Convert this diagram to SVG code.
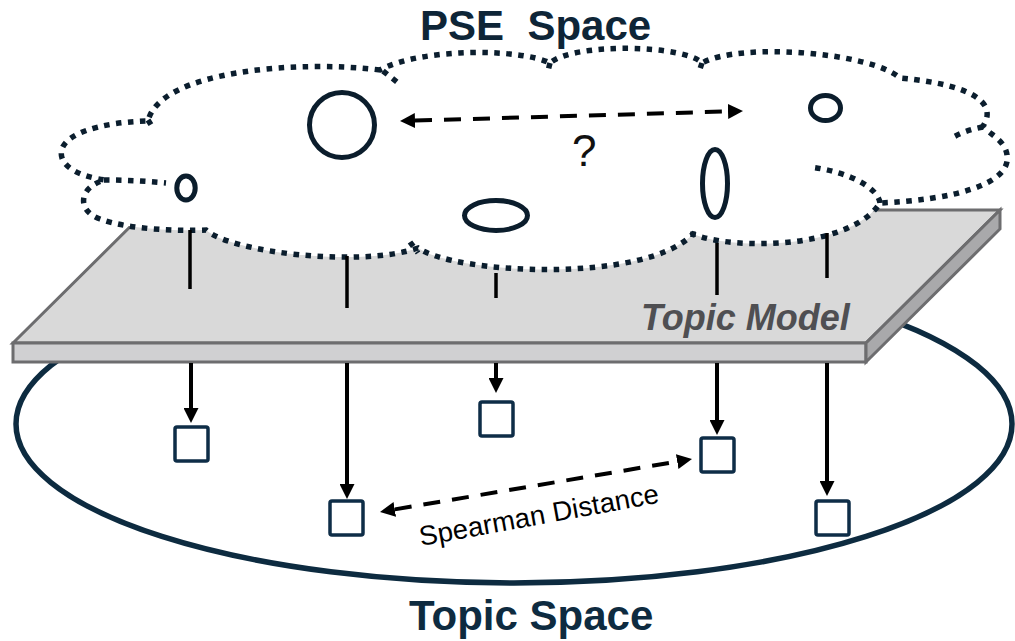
<svg xmlns="http://www.w3.org/2000/svg" width="1015" height="641" viewBox="0 0 1015 641">
<style>
.title{font-family:"Liberation Sans",Arial,sans-serif;font-weight:bold;font-size:42px;white-space:pre}
.cloud{fill:#ffffff;stroke:#0b1e2e;stroke-width:5.5;stroke-dasharray:5.5 6.5}
.tail{fill:none;stroke:#0b1e2e;stroke-width:5.5;stroke-dasharray:5.5 6.5}
.pse{fill:none;stroke:#0b1d2c;stroke-width:5}
.stub{stroke:#000;stroke-width:3.5}
.arr{stroke:#000;stroke-width:4;fill:none;marker-end:url(#ah)}
.dash{stroke:#000;stroke-width:4;fill:none;stroke-dasharray:17 12;marker-start:url(#ah);marker-end:url(#ah)}
.sq{fill:#fff;stroke:#0e2d47;stroke-width:3.5}
.plane{stroke:#6d6d6f;stroke-width:3;stroke-linejoin:miter}
</style>
<defs>
<marker id="ah" markerUnits="userSpaceOnUse" viewBox="0 0 15 15" refX="0" refY="7.5" markerWidth="15" markerHeight="15" orient="auto-start-reverse">
<path d="M0,0 L15,7.5 L0,15 Z" fill="#000"/>
</marker>
</defs>
<rect width="1015" height="641" fill="#fff"/>

<g id="topic-space">
<ellipse cx="514" cy="424" rx="498" ry="159" fill="none" stroke="#0d2b40" stroke-width="5.5"/>
</g>

<g id="topic-model">
<polygon class="plane" points="13,343 147,210 1000,210 866,343" fill="#d9d9d9"/>
<polygon class="plane" points="13,343 866,343 866,362 13,362" fill="#d0d0d2"/>
<polygon class="plane" points="866,343 1000,210 1000,229 866,362" fill="#a9a9ab"/>
<text x="641" y="330" font-family="'Liberation Sans',Arial,sans-serif" font-weight="bold" font-style="italic" font-size="36" fill="#4f4f52">Topic Model</text>
</g>

<g id="pse-cloud">
<path class="cloud" d="M380,70 C300,60 160,70 148,121 C100,122 55,135 62,158 C67,172 90,178 105,180 C80,186 75,210 100,219 C130,230 180,231 206,230 C230,252 360,268 418,248 C455,274 645,284 693,234 C730,250 850,250 880,203 C950,200 1012,185 1007,155 C1005,140 990,135 983,126 C995,108 985,86 900,78 C870,52 740,42 702,63 C685,45 575,42 550,63 C520,48 420,48 380,70 Z"/>
<path class="tail" d="M383,71 L397,82 M148,120 L153,128 M104,180 Q135,180 166,183 M410,242 L418,253 M693,237 L693,227 M880,203 C878,188 850,172 810,167 M983,127 Q965,130 950,139 M702,63 L700,69 M550,63 L548,71"/>
</g>

<g id="pse-title">
<text class="title" x="420" y="40" fill="#0e2537">PSE  Space</text>
</g>

<g id="pse-1"><circle class="pse" cx="342" cy="125" r="32.5"/></g>
<g id="pse-2"><ellipse class="pse" cx="186" cy="188" rx="9.2" ry="12"/></g>
<g id="pse-3"><ellipse class="pse" cx="496" cy="215.5" rx="31.5" ry="15"/></g>
<g id="pse-4"><ellipse class="pse" cx="715" cy="183.5" rx="12.5" ry="34"/></g>
<g id="pse-5"><ellipse class="pse" cx="825.5" cy="108" rx="15" ry="12.5"/></g>

<g id="question">
<text x="572" y="166" font-family="'Liberation Sans',Arial,sans-serif" font-size="44" fill="#111">?</text>
</g>

<g id="topic-1"><rect class="sq" x="175" y="427" width="33" height="34" rx="2"/></g>
<g id="topic-2"><rect class="sq" x="330" y="501" width="33" height="34" rx="2"/></g>
<g id="topic-3"><rect class="sq" x="480" y="402" width="33" height="34" rx="2"/></g>
<g id="topic-4"><rect class="sq" x="701" y="438" width="33" height="34" rx="2"/></g>
<g id="topic-5"><rect class="sq" x="816" y="501" width="33" height="34" rx="2"/></g>

<g id="connectors">
<line class="stub" x1="190" y1="230" x2="190" y2="289"/>
<line class="stub" x1="347" y1="256" x2="347" y2="308"/>
<line class="stub" x1="496" y1="273" x2="496" y2="298"/>
<line class="stub" x1="717" y1="243" x2="717" y2="295"/>
<line class="stub" x1="827" y1="233" x2="827" y2="278"/>
<line class="arr" x1="191" y1="363" x2="191" y2="408"/>
<line class="arr" x1="347" y1="363" x2="347" y2="484"/>
<line class="arr" x1="496" y1="363" x2="496" y2="378"/>
<line class="arr" x1="717" y1="363" x2="717" y2="420"/>
<line class="arr" x1="827" y1="363" x2="827" y2="481"/>
<line class="dash" x1="415" y1="120.6" x2="728" y2="111.4"/>
<line class="dash" x1="394.8" y1="509.4" x2="677.2" y2="461.6"/>
</g>

<g id="spearman-label">
<text transform="translate(421,546) rotate(-10.3)" x="0" y="0" font-family="'Liberation Sans',Arial,sans-serif" font-size="27.5" fill="#000" textLength="243" lengthAdjust="spacing">Spearman Distance</text>
</g>

<g id="topic-title">
<text class="title" x="409" y="630" fill="#0e2b40">Topic Space</text>
</g>
</svg>
